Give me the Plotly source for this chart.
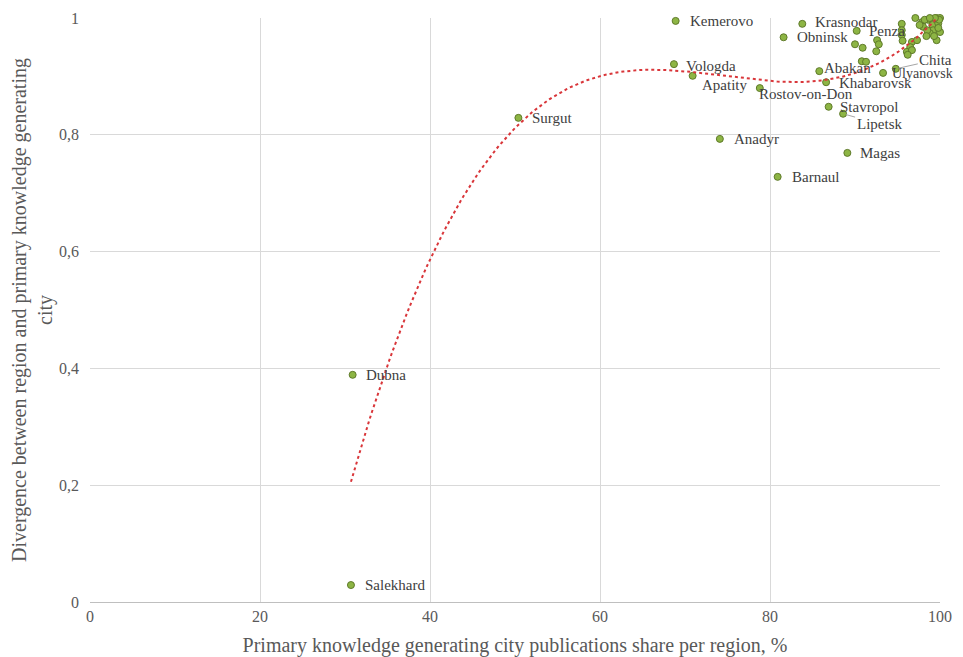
import numpy as np
import plotly.graph_objects as go

# ---- data ----
city_names = ["Kemerovo", "Krasnodar", "Obninsk", "Vologda", "Apatity", "Rostov-on-Don",
              "Abakan", "Khabarovsk", "Stavropol", "Lipetsk", "Anadyr", "Magas", "Barnaul",
              "Surgut", "Dubna", "Salekhard", "Penza", "Ulyanovsk", "Chita"]
city_share = [68.9, 83.8, 81.6, 68.7, 70.9, 78.8, 85.8, 86.6, 86.9, 88.6, 74.1, 89.1, 80.9,
              50.4, 30.9, 30.7, 90.2, 93.3, 94.8]
city_div = [0.995, 0.990, 0.967, 0.921, 0.901, 0.880, 0.909, 0.890, 0.848, 0.836, 0.793, 0.769,
            0.728, 0.829, 0.389, 0.029, 0.978, 0.906, 0.913]

other_share = [90.0, 90.9, 92.6, 92.8, 92.5, 90.8, 91.3, 95.5, 95.5, 95.5, 95.6, 96.7, 96.5,
               96.1, 96.7, 96.2, 97.1, 97.9, 98.0, 98.6, 99.1, 99.6, 100.0, 99.8, 99.9, 99.2,
               98.8, 98.5, 100.0, 99.6, 98.2, 99.4, 98.8, 99.8, 97.6, 98.4, 99.3, 97.3]
other_div = [0.955, 0.949, 0.962, 0.955, 0.943, 0.926, 0.925, 0.990, 0.979, 0.971, 0.961, 0.959,
             0.950, 0.942, 0.945, 0.937, 1.000, 0.993, 0.985, 0.997, 0.988, 1.000, 1.000, 0.991,
             0.997, 0.979, 0.974, 0.979, 0.976, 0.962, 0.997, 1.000, 1.000, 0.983, 0.988, 0.969,
             0.969, 0.962]

x_ticks = [0, 20, 40, 60, 80, 100]
y_ticks = [0, 0.2, 0.4, 0.6, 0.8, 1.0]
y_tick_text = ["0", "0,2", "0,4", "0,6", "0,8", "1"]

# ---- label placement (screen-pixel offsets from point) ----
label_offsets = {
    "Kemerovo": (12, 0), "Krasnodar": (11, -2), "Obninsk": (11, 0), "Vologda": (10, 2),
    "Apatity": (7, 9), "Rostov-on-Don": (-3, 6), "Abakan": (3, -3), "Khabarovsk": (11, 1),
    "Stavropol": (9, 0), "Anadyr": (12, 0), "Magas": (11, 0), "Barnaul": (12, 0),
    "Surgut": (12, 0), "Dubna": (11, 0), "Salekhard": (12, 0), "Penza": (10, 0),
    "Ulyanovsk": (7, 1),
}
label_sizes = {"Ulyanovsk": 14}
leader_labels = {"Lipetsk": (36, 10), "Chita": (40, -9)}

all_x = np.array(city_share + other_share)
all_y = np.array(city_div + other_div)
coef = np.polyfit(all_x, all_y, 3)
tx = np.linspace(all_x.min(), 100, 200)
ty = np.polyval(coef, tx)

serif = "Liberation Serif, Times New Roman, serif"
fig = go.Figure()
fig.add_trace(go.Scatter(x=all_x, y=all_y, mode="markers", cliponaxis=False,
                         marker=dict(size=7, color="#8db544",
                                     line=dict(color="#5f7a2a", width=1)),
                         showlegend=False, hoverinfo="skip"))
fig.add_trace(go.Scatter(x=tx, y=ty, mode="lines", showlegend=False,
                         line=dict(color="#d9363a", width=2, dash="dot"), hoverinfo="skip"))

annotations = []
for n, xv, yv in zip(city_names, city_share, city_div):
    if n in label_offsets:
        dx, dy = label_offsets[n]
        annotations.append(dict(x=xv, y=yv, text=n, showarrow=False, xanchor="left",
                                xshift=dx, yshift=-dy,
                                font=dict(family=serif, size=label_sizes.get(n, 15),
                                          color="#404040")))
    elif n in leader_labels:
        ax, ay = leader_labels[n]
        annotations.append(dict(x=xv, y=yv, text=n, showarrow=True, arrowhead=0,
                                arrowwidth=1, arrowcolor="#a6a6a6", ax=ax, ay=ay,
                                standoff=3,
                                font=dict(family=serif, size=15, color="#404040")))

fig.update_layout(
    width=955, height=649,
    margin=dict(l=82, r=23, t=10, b=55),
    paper_bgcolor="white", plot_bgcolor="white",
    annotations=annotations,
    font=dict(family=serif, color="#595959"),
    xaxis=dict(range=[0, 100], tickvals=x_ticks, showgrid=True, gridcolor="#d9d9d9",
               gridwidth=1, zeroline=False, showline=True, linecolor="#bfbfbf",
               automargin=False, ticks="",
               tickfont=dict(size=16, color="#595959"),
               title=dict(text="Primary knowledge generating city publications share per region, %",
                          font=dict(size=20, color="#595959"), standoff=14)),
    yaxis=dict(range=[0, 1], tickvals=y_ticks, ticktext=y_tick_text, showgrid=True,
               gridcolor="#d9d9d9", gridwidth=1, zeroline=False, showline=False,
               automargin=False, ticks="",
               tickfont=dict(size=16, color="#595959"), ticklabelstandoff=10,
               title=dict(text="Divergence between region and primary knowledge generating<br>city",
                          font=dict(size=20, color="#595959"), standoff=6)),
)
fig.write_html("out.html")
